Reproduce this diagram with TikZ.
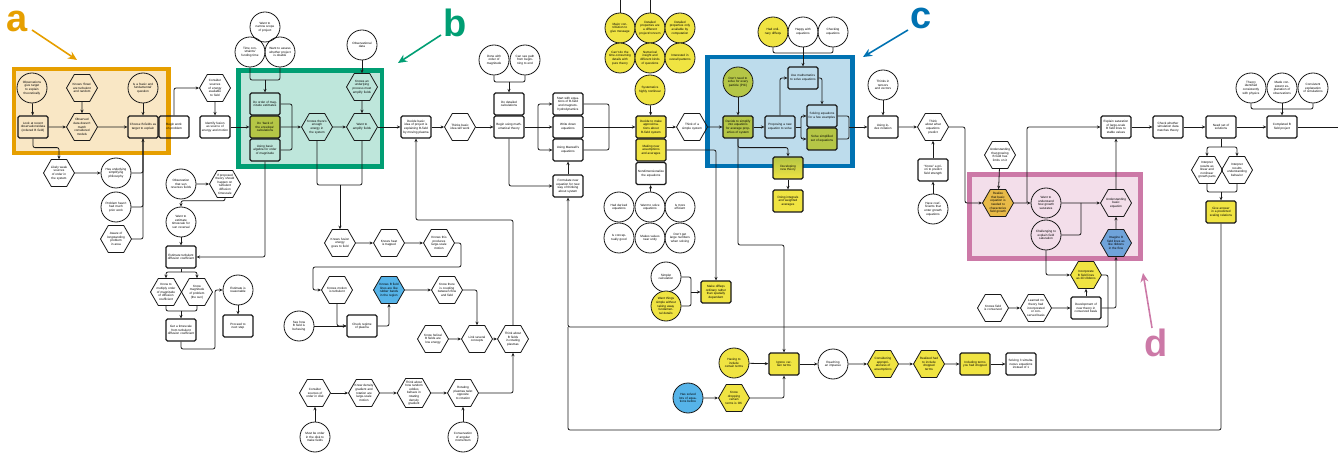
\documentclass[tikz,border=0pt]{standalone}
\usepackage{fontspec}
\setmainfont{Liberation Sans}
\usetikzlibrary{shapes.geometric,arrows.meta}

\definecolor{fOrange}{HTML}{E69F00}
\definecolor{fOrangeBg}{HTML}{F9E7C5}
\definecolor{fGreen}{HTML}{009E73}
\definecolor{fGreenBg}{HTML}{BEE6DB}
\definecolor{fBlue}{HTML}{0072B2}
\definecolor{fBlueBg}{HTML}{BDDCEC}
\definecolor{fPink}{HTML}{CC79A7}
\definecolor{fPinkBg}{HTML}{F3DEEA}
\definecolor{cYellow}{HTML}{F0E442}
\definecolor{cSky}{HTML}{56B4E9}
\definecolor{cOlive}{HTML}{B5C646}
\definecolor{cGold}{HTML}{E8BA48}
\definecolor{cRibbon}{HTML}{6FA3DA}

\tikzset{
  txt/.style={font=\fontsize{3.1}{3.6}\selectfont, align=center, text=black},
  circ/.style={txt, circle, draw=black!90, line width=0.8pt, minimum size=30pt, inner sep=-1pt, text width=22pt},
  hex/.style={txt, regular polygon, regular polygon sides=6, draw=black!90, line width=0.8pt, minimum size=31pt, inner sep=-2pt, text width=20pt},
  rbox/.style={txt, rectangle, rounded corners=1.5pt, draw=black!90, line width=1.25pt, minimum width=30pt, minimum height=22pt, inner sep=1pt, text width=27pt},
  cnx/.style={draw=black!90, line width=0.8pt, rounded corners=2pt, -{Stealth[length=3.4pt,width=3pt]}},
  lnk/.style={draw=black!90, line width=0.8pt, rounded corners=2pt},
  frame/.style={line width=4.5pt},
  lbl/.style={font=\fontsize{38}{38}\selectfont\bfseries, inner sep=0pt},
  lblarrow/.style={line width=1.6pt, -{Stealth[length=9pt,width=8pt]}},
}

\begin{document}
\begin{tikzpicture}[x=1pt,y=-1pt]
\useasboundingbox (0,0) rectangle (1338,454);

% highlighted regions: tint and border
\fill[fOrangeBg] (14,69) rectangle (168.3,153);
\fill[fGreenBg] (238.5,70.5) rectangle (382,166.5);
\fill[fBlueBg] (707.5,57) rectangle (852.5,166);
\fill[fPinkBg] (969,175) rectangle (1140.3,259);
\draw[frame, fOrange] (14,69) rectangle (168.3,153);
\draw[frame, fGreen] (238.5,70.5) rectangle (382,166.5);
\draw[frame, fBlue] (707.5,57) rectangle (852.5,166);
\draw[frame, fPink, line width=5pt] (969,175) rectangle (1140.3,259);

% ---------- region a ----------
\node[circ] (o1) at (32,88) {Observations give target to explain theoretically};
\node[rbox] (o2) at (33,127) {Look at recent observations/data (ordered B field)};
\node[hex] (o3) at (82,88) {Knows ‘flows’ are turbulent and random};
\node[hex] (o4) at (82,127) {Observed data doesn’t match considered models};
\node[circ] (o5) at (143,88) {Is a ‘basic and fundamental’ question};
\node[rbox] (o6) at (143,127) {Choose B-fields as target to explain};
\node[rbox] (beg) at (174,127) {Begin work on problem};
\node[hex] (cons) at (215,88) {Consider sources of energy available to field};
\node[rbox] (ident) at (215,127) {Identify fusion as source of energy and motion};
\node[circ] (nar) at (265,27) {Want to narrow scope of project};
\node[circ] (tim) at (250,52) {Time constraints/ funding time};
\node[circ] (ass) at (280,52) {Want to assess whether project is doable};

% ---------- region b ----------
\node[rbox] (g1) at (265,104) {Do order of magnitude estimates};
\node[rbox, fill=cOlive] (g2) at (265,127) {Do ‘back of the envelope’ calculations};
\node[rbox] (g3) at (265,150) {Using basic algebra for order of magnitude};
\node[hex] (g4) at (317,127) {Knows there’s enough energy in the system};
\node[hex] (g5) at (362,87) {Knows an underlying process must amplify fields};
\node[hex] (g6) at (362,127) {Want to amplify fields};
\node[circ] (obs) at (362,45) {Observational data};

% ---------- middle ----------
\node[rbox] (dec) at (416,127) {Decide basic idea of project is explaining B-field by moving plasma};
\node[hex] (thk) at (460,127) {Thinks basic idea will work};
\node[circ] (don) at (494,60) {Done with order of magnitude};
\node[circ] (see) at (525,60) {Can see path from beginning to end};
\node[rbox] (det) at (509,104) {Do detailed calculations};
\node[rbox] (bmt) at (509,127) {Begin using mathematical theory};
\node[rbox] (sw) at (568,104) {Start with equations of B-field and magnetohydrodynamics};
\node[rbox] (wd) at (568,127) {Write down equations};
\node[rbox] (mx) at (568,150) {Using Maxwell’s equations};
\node[rbox] (form) at (568,186) {Formulate new equation for new way of thinking about system};

% ---------- approximations ----------
\node[circ, fill=cYellow] (y1) at (620,28) {Major contribution to give message};
\node[circ, fill=cYellow] (y2) at (650,28) {Detailed properties are a different project/concern};
\node[circ, fill=cYellow] (y3) at (680,28) {Detailed properties only available by computation};
\node[circ, fill=cYellow] (y4) at (620,58) {Can’t do the time-consuming details with pure theory};
\node[circ, fill=cYellow] (y5) at (650,58) {Numerical insight and different kinds of questions};
\node[circ, fill=cYellow] (y6) at (680,58) {Interested in overall patterns};
\node[circ, fill=cYellow] (y7) at (650,90) {Systematics highly nonlinear};
\node[rbox, fill=cYellow] (apr) at (651,127) {Decide to make approximations about B-field system};
\node[rbox, fill=cYellow] (mna) at (651,150) {Making new assumptions and averages};
\node[rbox] (nd) at (651,173.5) {Nondimensionalize the equations};
\node[circ] (w1) at (619,207) {Had derived equations};
\node[circ] (w2) at (650,207) {Want to solve equations};
\node[circ] (w3) at (680,207) {Is more efficient};
\node[circ] (w4) at (619,238) {Is conceptually good};
\node[circ] (w5) at (650,238) {Makes values near unity};
\node[circ] (w6) at (680,238) {Don’t get large numbers when solving};
\node[circ] (sim) at (666,277) {Simpler calculation};
\node[circ, fill=cYellow] (wts) at (666,306) {Want things simple without taking away fundamental details};
\node[rbox, fill=cYellow] (mdo) at (716,292) {Make diffeqs ordinary rather than spatially dependent};
\node[hex] (tss) at (692,127) {Think of a simple system};

% ---------- region c ----------
\node[circ, fill=cYellow] (hod) at (773,32) {Had ordinary diffeqs};
\node[circ] (hap) at (803,32) {Happy with equations};
\node[circ] (chk) at (833,32) {Checking equations};
\node[circ, fill=cOlive] (dnn) at (738,82) {Don’t need to solve for every particle (PIC)};
\node[rbox, fill=cOlive] (dts) at (738,127) {Decide to simplify into equations for average properties of system};
\node[rbox] (prop) at (780,127) {Proposing a new equation to solve};
\node[rbox] (usem) at (803,78) {Use mathematics to solve equations};
\node[rbox] (sfe) at (822,116) {Solving equations for a few examples};
\node[rbox, fill=cOlive] (sss) at (822,139) {Solve simplified set of equations};
\node[rbox, top color=cOlive, bottom color=cYellow] (nth) at (788,168) {Developing new theory};
\node[rbox, fill=cYellow] (dia) at (788,201) {Doing integrals and weighted averages};
\node[rbox] (uin) at (883,127) {Using index notation};
\node[circ] (tpt) at (883,85) {Thinks in tensors and vectors};
\node[hex] (twe) at (933,127) {Think about what equations predict};
\node[rbox] (kap) at (933,170) {“Know” a priori to predict field strength};
\node[circ] (hco) at (933,209) {Have coefficients that enter growth equations};

% ---------- region d ----------
\node[hex] (ugl) at (1000,155) {Understanding that growing B field has limits on it};
\node[hex, fill=cGold] (rea) at (998,203) {Realize that basic equation is needed to characterize field growth};
\node[circ] (wug) at (1046,203) {Want to understand how growth saturates};
\node[circ] (cha) at (1046,235) {Challenging to explain field saturation};
\node[hex] (ube) at (1116,203) {Understanding basic equation};
\node[hex, fill=cRibbon] (imb) at (1116,243) {Imagine B field lines as like ribbons in the flow};
\node[hex, fill=cYellow] (inc) at (1086,275) {Incorporate B field lines as 2D ribbons};
\node[rbox] (dev) at (1086,308) {Development of new theory in conserved basis};
\node[hex] (lnt) at (1036,308) {Learned no theory had incorporated or conserved basis};
\node[hex] (kfc) at (993,308) {Knows field is conserved};

% ---------- right ----------
\node[rbox] (exs) at (1116,127) {Explain saturation of large-scale B field lines to stable values};
\node[rbox] (cwd) at (1168,127) {Check whether simulation data matches theory};
\node[rbox] (nss) at (1221,127) {Need set of solutions};
\node[rbox] (cbf) at (1282,127) {Completed B field project};
\node[circ] (ti) at (1251,88) {Theory identified consistently with physics};
\node[circ] (mc) at (1282,88) {Made consistent explanation of observations};
\node[circ] (ce) at (1313,88) {Consistent explanation of simulations};
\node[hex] (irl) at (1207,170) {Interpret results as linear and nonlinear growth parts};
\node[hex] (irb) at (1237,170) {Interpret results understanding behavior};
\node[rbox, fill=cYellow] (gas) at (1221,212) {Give answer in a predicted scaling relations};

% ---------- lower left ----------
\node[hex] (lws) at (59,173) {Likely weak sources of order in the system};
\node[circ] (hus) at (116,173) {Has underlying simplifying philosophy};
\node[circ] (phw) at (116,207) {Problem hasn’t had much prior work};
\node[hex] (alp) at (116,239) {Aware of longstanding problem in area};
\node[circ] (osr) at (181,184) {Observation that sun reverses fields};
\node[hex] (ipt) at (225,184) {If proposed theory should happen on turbulent diffusion timescale};
\node[circ] (wet) at (181,222) {Want to estimate timescale for sun reversal};
\node[rbox] (etd) at (181,257) {Estimate turbulent diffusion coefficient};
\node[hex] (kmo) at (166,292) {Know to multiply order of magnitude of diffusion coefficient};
\node[hex] (kms) at (197,292) {Know magnitude of problem (the sun)};
\node[circ] (eir) at (238,290) {Estimate is reasonable};
\node[rbox] (gts) at (181,330) {Get a timescale from turbulent diffusion coefficient};
\node[rbox] (pns) at (238,326) {Proceed to next step};

% ---------- lower middle ----------
\node[hex] (kfe) at (340,243) {Knows fusion energy goes to field};
\node[hex] (kht) at (389,243) {Knows heat is trapped};
\node[hex] (kpl) at (439,243) {Knows this produces large-scale motion};
\node[hex] (kmt) at (337,290) {Knows motion is turbulent};
\node[hex, fill=cSky] (kbr) at (389,290) {Knows B field lines are like rubber bands in the region};
\node[hex] (kcp) at (447,290) {Know there is coupling between flow and field};
\node[rbox] (crp) at (362,326) {Check regime of plasma};
\node[circ] (shb) at (299,326) {See how B field is behaving};
\node[hex] (khl) at (433,339) {Know helical B fields are low energy};
\node[hex] (lsc) at (477,339) {Link several concepts};
\node[hex] (tbr) at (513,339) {Think about B fields in rotating plasmas};
\node[hex] (cso) at (315,393) {Consider sources of order in disk};
\node[circ] (mbo) at (315,437) {Must be order in the disk to make fields};
\node[hex] (kdg) at (364,393) {Know density gradient and rotation are large-scale motion};
\node[hex] (tah) at (414,393) {Think about how random eddies behave in rotating density gradient};
\node[hex] (rpt) at (463,393) {Rotating plasmas twist opposite to rotation};
\node[circ] (cam) at (463,437) {Conservation of angular momentum};

% ---------- lower right ----------
\node[circ, fill=cYellow] (hti) at (734,363) {Having to include certain terms};
\node[rbox, fill=cYellow] (ict) at (784,364) {Ignore certain terms};
\node[circ, fill=cSky] (hsl) at (688,398) {Has solved lots of equations before};
\node[hex, fill=cYellow] (kdt) at (734,398) {Know dropping certain terms is OK};
\node[circ] (rai) at (833,364) {Reaching an impasse};
\node[hex, fill=cYellow] (caa) at (883,364) {Considering appropriateness of assumptions};
\node[hex, fill=cYellow] (rhi) at (929,364) {Realized had to include dropped terms};
\node[rbox, fill=cYellow] (itd) at (975,364) {Including terms you had dropped};
\node[rbox] (s3e) at (1021,364) {Solving 3 simultaneous equations instead of 1};

% junction points
\coordinate (m1) at (265,80);
\coordinate (m2) at (292,127);
\coordinate (m3) at (340,185);
\coordinate (m4) at (509,82);
\coordinate (m5) at (538,127);
\coordinate (m6) at (609,127);
\coordinate (r1) at (416,220);
\coordinate (m8) at (691,292);
\coordinate (m9) at (803,53);
\coordinate (m10) at (801,127);
\coordinate (m11) at (849,127);
\coordinate (m12) at (784,245);
\coordinate (m13) at (965,127);
\coordinate (m14) at (1027,203);
\coordinate (m15) at (1081,203);
\coordinate (m16) at (1108,327);
\coordinate (m17) at (1282,109);
\coordinate (m18) at (1221,147);
\coordinate (m19) at (1221,192);
\coordinate (m20) at (568,430);
\coordinate (m21) at (568,327);
\coordinate (m22) at (181,272);
\coordinate (m23) at (181,311);
\coordinate (m24) at (215,349);
\coordinate (m25) at (461,267);
\coordinate (m26) at (313,267);
\coordinate (t1) at (620,0);
\coordinate (t2) at (650,0);
\coordinate (rend) at (1338,127);

% ---------- connectors ----------
\draw[cnx] (o1) -- (o2);
\draw[cnx] (o3) -- (o4);
\draw[cnx] (o2) -- (o4);
\draw[cnx] (o4) -- (o6);
\draw[cnx] (o5) -- (o6);
\draw[cnx] (beg.north) |- (cons.west);
\draw[cnx] (cons) -- (ident);
\draw[cnx] (ident) -- (g2);
\draw[cnx] (o2.south) -- ++(0,9) -| (lws.north);
\draw[cnx] (lws) -- (hus);
\draw[cnx] (hus.east) -| (o6.south);
\draw[lnk] (phw.east) -| (o6.south);
\draw[lnk] (alp.east) -| (o6.south);

\draw[lnk] (tim.south) |- (m1);
\draw[lnk] (ass.south) |- (m1);
\draw[cnx] (m1) -- (g1);
\draw[cnx] (g2) -- (g4);
\draw[lnk] (g1.east) -| (m2);
\draw[lnk] (g3.east) -| (m2);
\draw[cnx] (g4) -- (g6);
\draw[cnx] (obs) -- (g5);
\draw[cnx] (g5) -- (g6);
\draw[cnx] (g6) -- (dec);
\draw[lnk] (g4.south) |- (m3);
\draw[lnk] (g6.south) |- (m3);
\draw[cnx] (m3) -- (kfe);
\draw[cnx] (g3.south) |- (etd.east);

\draw[cnx] (dec) -- (thk);
\draw[cnx] (thk) -- (bmt);
\draw[lnk] (don.south) |- (m4);
\draw[lnk] (see.south) |- (m4);
\draw[cnx] (m4) -- (det);
\draw[cnx] (bmt) -- (wd);
\draw[cnx] (m5) |- (sw.west);
\draw[cnx] (m5) |- (mx.west);
\draw[lnk] (sw.east) -| (m6);
\draw[lnk] (mx.east) -| (m6);
\draw[cnx] (wd) -- (apr);
\draw[cnx] (bmt.south) |- (form.west);
\draw[cnx] (form) -- (mx);
\draw[cnx] (tbr.north) |- (r1) -- (dec.south);

\draw[lnk] (y1.north) -- (t1);
\draw[lnk] (y2.north) -- (t2);
\draw[cnx] (y7) -- (apr);
\draw[cnx] (apr) -- (tss);
\draw[cnx] (tss) -- (dts);
\draw[cnx] (mna.east) -| (mdo.north);
\draw[cnx] (w2) -- (nd);
\draw[lnk] (sim.east) -| (m8);
\draw[lnk] (wts.east) -| (m8);
\draw[cnx] (m8) -- (mdo.west);

\draw[lnk] (hod.south) |- (m9);
\draw[lnk] (chk.south) |- (m9);
\draw[cnx] (hap) -- (usem);
\draw[cnx] (dnn) -- (dts);
\draw[cnx] (dts) -- (prop);
\draw[cnx] (prop.north) |- (usem.west);
\draw[cnx] (usem.east) -| (sfe.north);
\draw[lnk] (prop.east) -- (m10);
\draw[cnx] (m10) |- (sfe.west);
\draw[cnx] (m10) |- (sss.west);
\draw[lnk] (sfe.east) -| (m11);
\draw[lnk] (sss.east) -| (m11);
\draw[cnx] (m11) -- (uin);
\draw[cnx] (dts.south) -- ++(0,9) -| (nth.north);
\draw[cnx] (dts.south) |- (m12) -- (ict.north);
\draw[cnx] (nth) -- (dia);
\draw[cnx] (tpt) -- (uin);
\draw[cnx] (uin) -- (twe);
\draw[cnx] (hco) -- (kap);
\draw[cnx] (kap) -- (twe);
\draw[cnx] (twe.east) -- (m13) |- (rea.west);

\draw[cnx] (ugl) -- (rea);
\draw[cnx] (rea) -- (wug);
\draw[cnx] (m14) |- (exs.west);
\draw[lnk] (cha.east) -| (m15);
\draw[cnx] (wug) -- (ube);
\draw[cnx] (imb) -- (ube);
\draw[cnx] (ube) -- (exs);
\draw[cnx] (cha.south) |- (inc.west);
\draw[cnx] (inc.east) -| (m16) -| (form.south);
\draw[cnx] (dev) -- (inc);
\draw[cnx] (dev.east) -| (imb.south);
\draw[cnx] (kfc) -- (lnt);
\draw[cnx] (lnt) -- (dev);

\draw[cnx] (exs) -- (cwd);
\draw[cnx] (cwd) -- (nss);
\draw[cnx] (nss) -- (cbf);
\draw[lnk] (cbf) -- (rend);
\draw[lnk] (ti.south) |- (m17);
\draw[lnk] (ce.south) |- (m17);
\draw[cnx] (mc) -- (cbf);
\draw[lnk] (nss.south) -- (m18);
\draw[cnx] (m18) -| (irl.north);
\draw[cnx] (m18) -| (irb.north);
\draw[lnk] (irl.south) |- (m19);
\draw[lnk] (irb.south) |- (m19);
\draw[cnx] (m19) -- (gas);
\draw[lnk] (gas.south) |- (m20) -- (m21);

\draw[cnx] (osr) -- (ipt);
\draw[cnx] (ipt.south) -- ++(0,3) -| (wet.north);
\draw[cnx] (wet) -- (etd);
\draw[lnk] (etd.south) -- (m22);
\draw[cnx] (m22) -| (kmo.north);
\draw[cnx] (m22) -| (kms.north);
\draw[lnk] (kmo.south) |- (m23);
\draw[lnk] (kms.south) |- (m23);
\draw[cnx] (m23) -- (gts);
\draw[cnx] (gts.south) |- (m24) |- (eir.west);
\draw[cnx] (eir) -- (pns);

\draw[cnx] (kfe) -- (kht);
\draw[cnx] (kht) -- (kpl);
\draw[cnx] (kpl.east) -| (m25) -- (m26) |- (kmt.west);
\draw[cnx] (kmt.south) |- (crp.west);
\draw[cnx] (shb) -- (crp);
\draw[cnx] (crp.east) -| (kbr.south);
\draw[cnx] (kbr) -- (kcp);
\draw[cnx] (kcp.east) -| (lsc.north);
\draw[cnx] (khl) -- (lsc);
\draw[cnx] (lsc) -- (tbr);
\draw[cnx] (mbo) -- (cso);
\draw[cnx] (cso) -- (kdg);
\draw[cnx] (kdg) -- (tah);
\draw[cnx] (tah) -- (rpt);
\draw[cnx] (rpt.east) -| (tbr.south);
\draw[cnx] (cam) -- (rpt);

\draw[cnx] (hti) -- (ict);
\draw[cnx] (hsl) -- (kdt);
\draw[cnx] (kdt.east) -| (ict.south);
\draw[cnx] (ict) -- (rai);
\draw[cnx] (rai) -- (caa);
\draw[cnx] (caa) -- (rhi);
\draw[cnx] (rhi) -- (itd);
\draw[cnx] (itd) -- (s3e);

% ---------- region letters ----------
\node[lbl, text=fOrange] (la) at (17,21) {a};
\node[lbl, text=fGreen] (lb) at (455,23) {b};
\node[lbl, text=fBlue] (lc) at (921,18) {c};
\node[lbl, text=fPink] (ld) at (1156,343) {d};
\coordinate (sa) at (32,30);   \coordinate (ta) at (77,60);
\coordinate (sb) at (441,35);  \coordinate (tb) at (398,63);
\coordinate (sc) at (908,30);  \coordinate (tc) at (863,57);
\coordinate (sd) at (1152,328); \coordinate (td) at (1143,273);
\draw[lblarrow, fOrange] (sa) -- (ta);
\draw[lblarrow, fGreen] (sb) -- (tb);
\draw[lblarrow, fBlue] (sc) -- (tc);
\draw[lblarrow, fPink] (sd) -- (td);
\end{tikzpicture}
\end{document}
